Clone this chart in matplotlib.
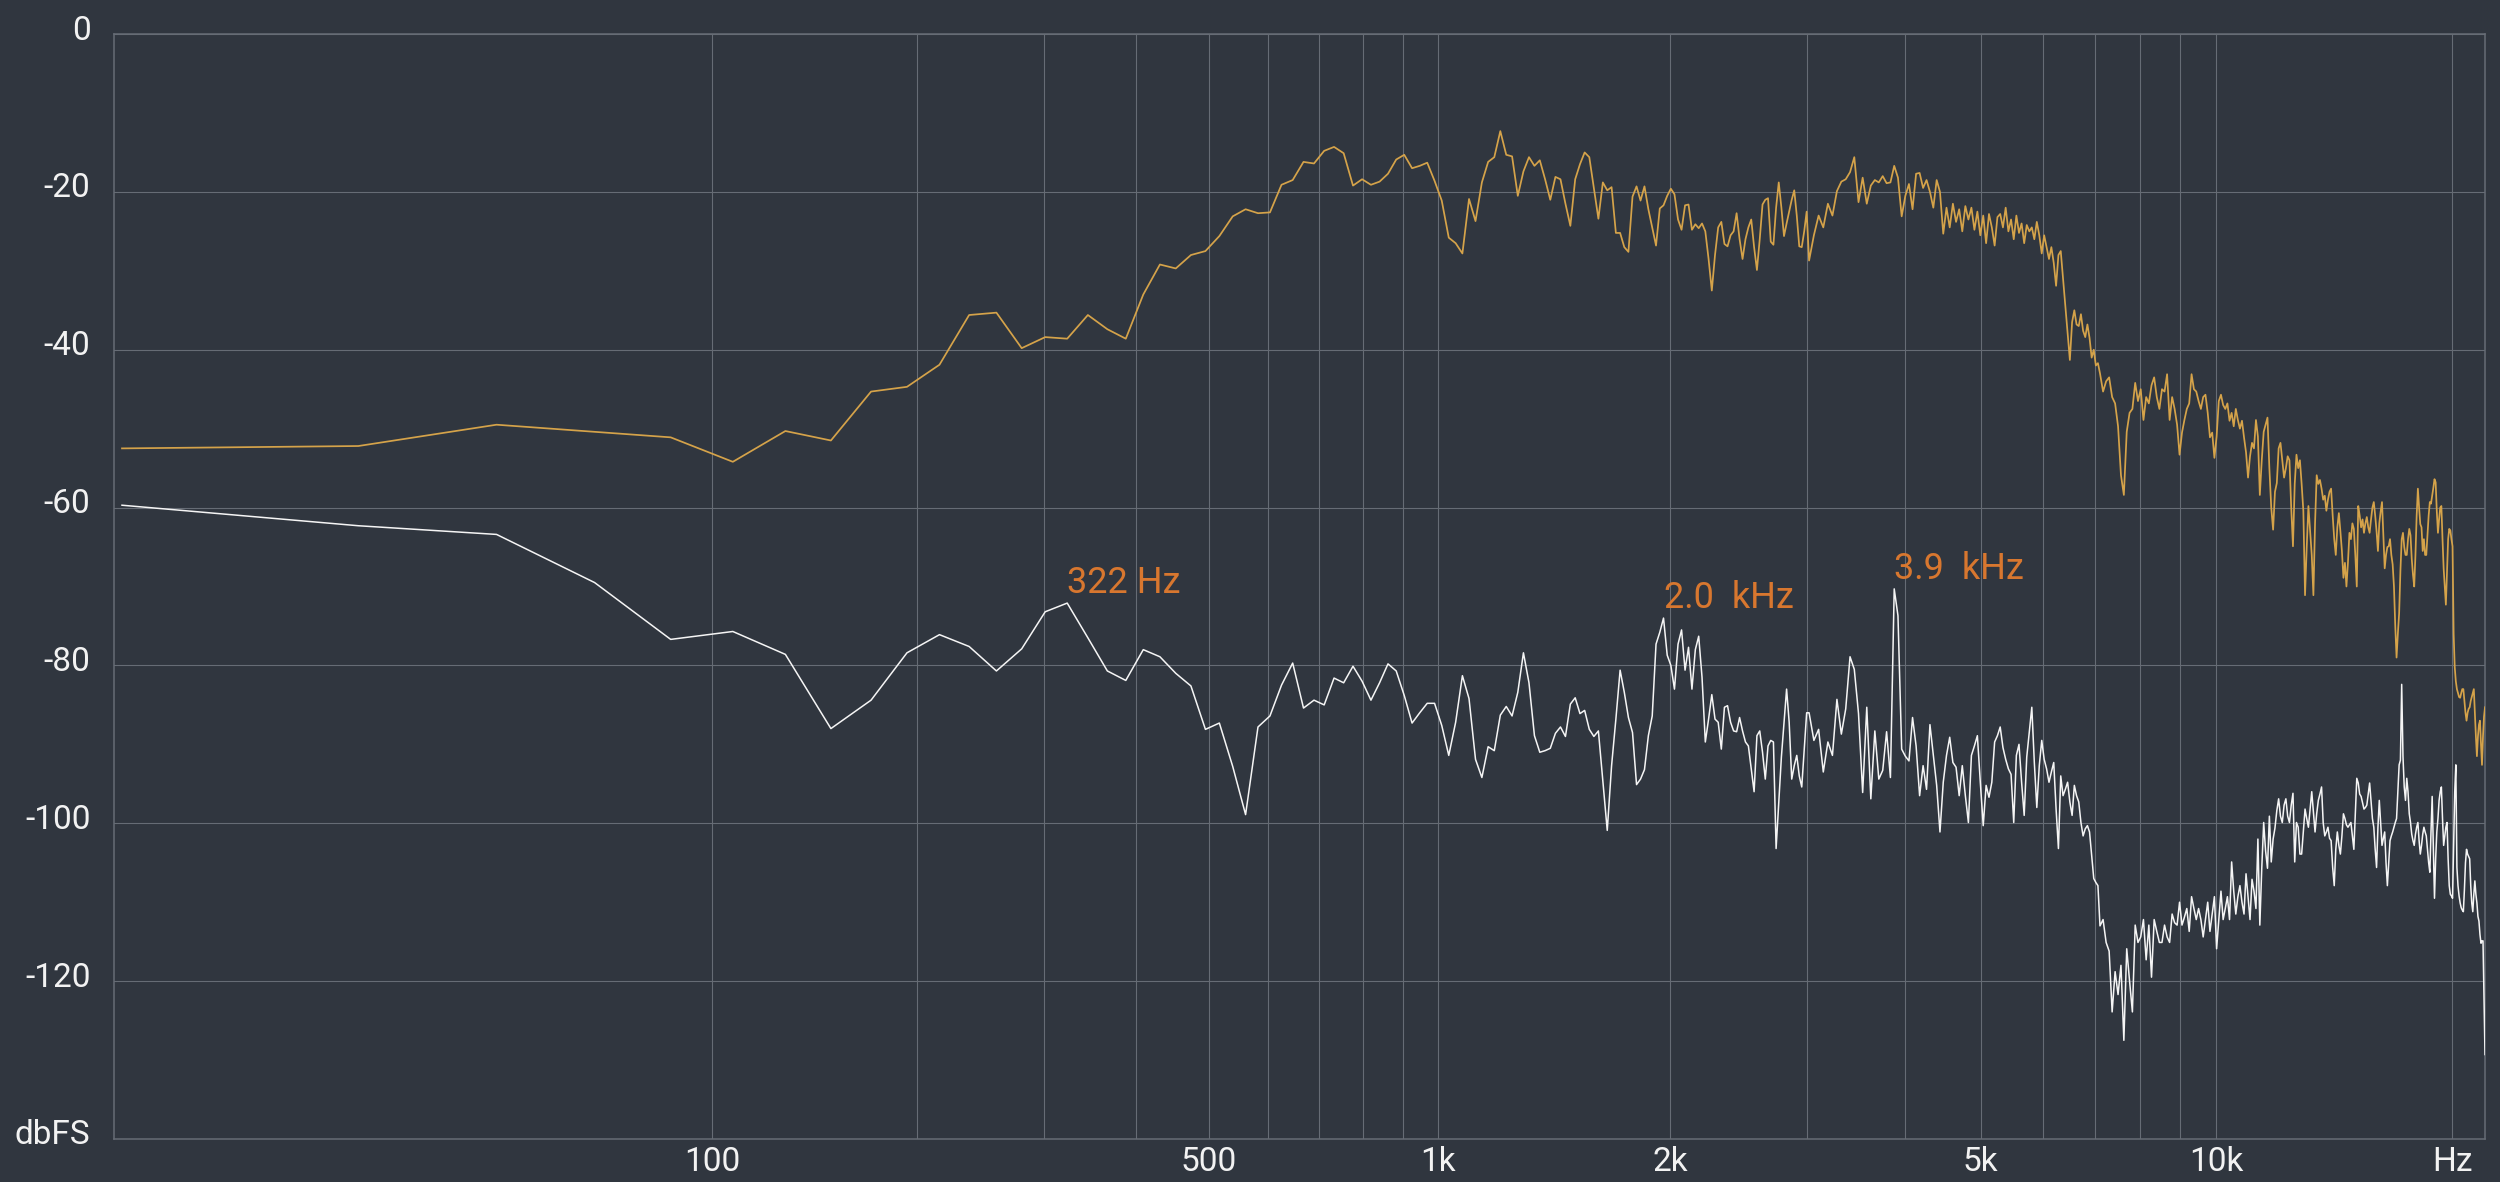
import numpy as np
import matplotlib
matplotlib.use('Agg')
import matplotlib.pyplot as plt
from matplotlib.transforms import ScaledTranslation

FS = 44100
NFFT = 2048
BIN_HZ = FS / NFFT

# spectrum readings (dBFS). bins 0..139 one per bin
gold_lo = [
    -52.5, -52.2, -49.5, -50.4, -51.1, -54.2, -50.3, -51.5, -45.3, -44.7,
    -41.9, -35.6, -35.3, -39.8, -38.4, -38.6, -35.6, -37.4, -38.6, -33.0,
    -29.2, -29.7, -28.0, -27.5, -25.6, -23.1, -22.2, -22.7, -22.6, -19.1,
    -18.5, -16.2, -16.4, -14.8, -14.3, -15.1, -19.2, -18.4, -19.1, -18.7,
    -17.7, -15.9, -15.3, -17.0, -16.7, -16.3, -18.6, -21.1, -25.8, -26.5,
    -27.8, -20.9, -23.7, -18.8, -16.2, -15.6, -12.3, -15.3, -15.5, -20.5,
    -17.4, -15.6, -16.7, -16.0, -18.4, -21.0, -18.1, -18.4, -21.5, -24.3,
    -18.4, -16.5, -15.0, -15.6, -19.5, -23.4, -18.8, -19.8, -19.4, -25.2,
    -25.2, -27.0, -27.6, -20.6, -19.3, -21.1, -19.3, -22.2, -24.5, -26.8,
    -22.1, -21.7, -20.5, -19.6, -20.3, -23.5, -24.8, -21.7, -21.6, -24.8,
    -24.1, -24.6, -24.0, -25.0, -28.5, -32.5, -28.0, -24.5, -23.8, -26.6,
    -26.9, -25.5, -25.0, -22.7, -26.0, -28.5, -26.0, -24.5, -23.5, -27.0,
    -29.9, -26.0, -21.6, -21.0, -20.8, -26.3, -26.7, -22.0, -18.8, -22.0,
    -25.6, -24.0, -22.5, -21.0, -19.8, -23.0, -26.9, -27.0, -25.0, -22.5,
]
white_lo = [
    -59.7, -62.3, -63.4, -69.5, -76.7, -75.7, -78.6, -88.0, -84.4, -78.4,
    -76.1, -77.6, -80.7, -77.9, -73.2, -72.1, -76.5, -80.7, -81.9, -78.0,
    -78.9, -81.0, -82.6, -88.1, -87.3, -92.8, -98.9, -87.8, -86.4, -82.5,
    -79.7, -85.4, -84.4, -85.0, -81.6, -82.2, -80.1, -82.0, -84.4, -82.2,
    -79.8, -80.7, -83.8, -87.3, -86.0, -84.8, -84.8, -87.6, -91.4, -87.2,
    -81.3, -84.2, -91.9, -94.2, -90.3, -90.8, -86.3, -85.2, -86.4, -83.4,
    -78.4, -82.2, -88.9, -91.0, -90.8, -90.5, -88.6, -87.8, -89.0, -84.9,
    -84.1, -86.1, -85.7, -88.1, -89.0, -88.3, -94.6, -100.9, -92.7, -86.8,
    -80.6, -83.4, -86.6, -88.5, -95.1, -94.4, -93.2, -88.9, -86.4, -77.3,
    -75.8, -74.0, -78.7, -80.0, -83.0, -77.3, -75.5, -80.6, -77.7, -83.0,
    -78.0, -76.3, -81.5, -89.7, -86.8, -83.7, -86.8, -87.2, -90.6, -85.3,
    -85.1, -87.2, -88.3, -88.4, -86.6, -88.3, -89.7, -90.2, -93.1, -96.0,
    -88.9, -88.3, -91.0, -94.4, -90.2, -89.5, -89.7, -103.2, -97.3, -91.6,
    -87.2, -83.0, -87.2, -94.4, -92.7, -91.4, -94.0, -95.4, -90.6, -86.0,
]

# bins 140..328, every 2nd bin
gold_mid = [
    -28.7, -25.5, -23.0, -24.5, -21.5, -23.0, -19.9, -18.7, -18.4, -17.5,
    -15.6, -21.3, -18.2, -21.5, -19.2, -18.5, -18.8, -18.0, -18.9, -18.8,
    -16.7, -18.2, -23.1, -20.5, -19.0, -22.2, -17.7, -17.6, -19.5, -18.5,
    -20.0, -22.0, -18.5, -20.0, -25.3,
    -22.0, -24.5, -21.5, -23.8, -22.2, -25.0, -21.8, -23.5, -22.0, -24.8,
    -22.5, -25.5, -23.0, -26.5, -22.8, -24.5, -26.8, -23.2, -22.8, -24.5,
    -22.0, -25.0, -23.5, -26.0, -23.0, -25.2, -24.0, -26.5, -24.2, -25.0,
    -24.5, -26.0, -23.8, -25.5, -27.8, -25.5, -27.0, -28.5, -27.0, -29.0,
    -31.9, -28.0, -27.5, -31.0, -34.4, -38.0, -41.3, -36.5, -35.0, -36.8,
    -37.0, -35.5, -37.6, -38.4, -36.8, -38.5, -41.0, -40.0, -42.0, -41.7,
]
white_mid = [
    -86.0, -89.5, -88.1, -93.5, -89.7, -91.4, -84.3, -88.7, -85.5, -78.9,
    -80.5, -86.1, -96.1, -85.3, -96.9, -88.3, -94.4, -93.3, -88.4, -94.2,
    -70.3, -73.7, -90.6, -91.5, -92.1, -86.6, -90.2, -96.5, -92.7, -95.7,
    -87.5, -91.4, -95.2, -101.1, -94.8, -91.4, -89.1, -92.3, -92.9, -96.5,
    -92.7, -96.5, -99.9, -91.4, -90.2, -88.9, -94.8, -100.3, -95.2, -96.7,
    -94.8, -89.7, -88.9, -87.8, -90.4, -91.9, -93.1, -93.8, -99.9, -91.4,
    -90.0, -94.8, -99.0, -91.6, -88.5, -85.3, -92.3, -98.0, -92.7, -89.5,
    -91.9, -93.1, -94.8, -93.5, -92.3, -98.2, -103.2, -94.0, -96.5, -95.7,
    -94.8, -97.3, -99.0, -95.2, -96.5, -97.3, -99.9, -101.6, -100.7, -100.3,
    -101.1, -104.1, -107.0, -107.5, -107.9,
]

# bins 330..1023, every 3rd bin
gold_hi = [
    -43.0, -45.3, -44.0, -43.5, -46.0, -46.8, -49.7, -55.9, -58.4, -50.4,
    -48.0, -47.5, -44.2, -46.5, -45.0, -48.9, -46.0, -46.8, -44.5, -43.5,
    -46.0, -47.5, -45.0, -45.3, -43.1, -48.9, -46.0, -47.5, -49.5, -53.3,
    -50.5, -48.9, -47.5, -46.8, -43.1, -45.0, -45.3, -46.5, -47.5, -46.0,
    -45.7, -48.0, -51.1, -50.5, -53.7, -51.0, -46.5, -45.7, -47.0, -47.5,
    -46.8, -49.0, -48.0, -49.7, -47.5, -48.9, -50.0, -49.0, -51.1, -53.0,
    -56.2, -53.5, -51.8, -52.5, -48.9, -51.0, -58.4, -54.0, -50.4, -49.5,
    -48.6, -55.0, -60.0, -62.8, -58.0, -56.9, -52.5, -51.8, -54.0, -56.2,
    -55.0, -53.5, -54.0, -60.0, -64.9, -57.0, -53.3, -55.0, -54.0,
    -57.0, -60.4, -71.1, -65.0, -59.8, -63.0, -66.0, -71.1, -62.0, -55.9,
    -57.0, -56.5, -57.6, -59.0, -58.5, -60.4, -59.0, -58.0, -57.6, -61.0,
    -64.0, -66.0, -62.5, -60.7, -63.0, -65.5, -68.9, -67.0, -70.0, -67.0,
    -63.2, -64.0, -62.0, -62.7, -66.0, -70.0, -59.8, -61.0, -62.5, -61.5,
    -63.2, -62.0, -61.2, -62.5, -63.2, -61.5, -60.0, -59.3, -61.0, -63.0,
    -65.5, -62.0, -60.5, -59.3, -63.5, -67.7, -66.0, -65.0, -64.9, -64.0,
    -66.0, -67.2, -70.0, -75.0, -79.0, -76.0, -73.4, -68.0, -64.0, -63.2,
    -65.0, -66.0, -66.0, -64.0, -62.7, -63.5, -66.5, -68.5, -70.0, -66.0,
    -61.0, -57.6, -60.0, -62.1, -62.5, -65.5, -64.0, -66.0, -66.0, -63.5,
    -61.0, -59.3, -59.5, -58.5, -57.5, -56.4, -56.8, -60.5, -63.2, -61.5,
    -60.0, -59.8, -64.0, -67.7, -70.0, -72.3, -68.0, -64.0, -62.7, -62.9,
    -64.0, -64.9, -76.0, -80.2, -82.0, -83.0, -83.5, -84.0, -84.1, -83.5,
    -83.0, -83.0, -84.5, -86.0, -87.0, -86.0, -85.5, -85.3, -84.5, -84.0,
    -83.5, -83.0, -86.0, -89.0, -91.5, -89.0, -87.5, -87.0, -90.0, -92.6,
    -89.0, -86.5, -85.3,
]
white_hi = [
    -113.0, -112.2, -115.1, -116.2, -123.9, -118.8, -121.7, -118.0, -127.5, -115.9,
    -120.0, -123.9, -112.9, -115.1, -114.4, -112.2, -117.3, -112.9, -119.5, -112.2,
    -113.7, -115.1, -115.1, -112.9, -114.4, -115.1, -111.5, -112.6, -112.9, -110.0,
    -112.9, -111.9, -110.8, -113.7, -109.3, -110.8, -112.2, -110.8, -112.2, -114.4,
    -112.2, -110.0, -113.7, -111.5, -109.3, -115.9, -112.2, -108.6, -112.2, -110.8,
    -109.3, -112.2, -104.9, -108.6, -111.5, -109.3, -107.9, -110.0, -111.5, -106.4,
    -109.3, -112.2, -107.1, -108.6, -110.8, -102.0, -112.9, -105.7, -99.9, -103.5,
    -105.7, -99.1, -104.9, -102.0, -100.6, -98.4, -96.9, -99.1, -99.9, -97.7,
    -96.9, -99.1, -99.9, -97.7, -96.2, -104.9, -99.9,
    -100.5, -103.9, -103.9, -101.1, -98.2, -99.4, -100.5, -98.2, -96.0, -98.5,
    -101.1, -98.8, -97.1, -96.3, -95.4, -99.9, -101.6, -101.1, -100.5, -101.9,
    -102.2, -105.6, -107.9, -103.3, -101.1, -102.8, -103.9, -101.6, -98.8, -99.4,
    -100.2, -100.5, -100.2, -99.9, -101.6, -103.3, -98.8, -94.3, -94.9, -96.3,
    -96.6, -97.4, -98.2, -98.0, -97.7, -96.3, -94.9, -97.1, -99.4, -100.5,
    -103.3, -105.6, -100.5, -97.1, -99.9, -102.8, -101.9, -101.1, -105.0, -107.9,
    -105.0, -102.2, -101.6, -101.1, -100.5, -99.9, -99.4, -96.0, -92.6, -92.0,
    -82.4, -91.5, -95.4, -97.1, -94.3, -96.0, -98.8, -99.9, -101.4, -102.2,
    -102.8, -101.4, -100.5, -99.9, -102.2, -103.9, -102.8, -101.4, -100.5, -101.1,
    -101.6, -103.3, -105.0, -106.2, -101.1, -96.6, -102.8, -109.5, -104.5, -101.1,
    -99.4, -97.1, -96.0, -95.4, -99.4, -102.8, -101.6, -100.5, -99.9, -104.5,
    -107.9, -109.0, -109.2, -109.5, -102.8, -96.0, -92.6, -105.6, -107.9, -109.2,
    -110.1, -110.7, -111.0, -111.2, -108.4, -105.0, -103.3, -103.9, -104.2, -104.5,
    -107.9, -110.1, -111.2, -109.0, -107.3, -109.0, -110.1, -111.8, -112.4, -114.1,
    -115.2, -114.9, -114.9, -122.5, -129.3,
]

peak_bins = [15, 91, 180]
peak_labels = ['322 Hz', '2.0  kHz', '3.9  kHz']

grid_hz = [100, 200, 300, 400, 500, 600, 700, 800, 900,
           1000, 2000, 3000, 4000, 5000, 6000, 7000, 8000, 9000, 10000, 20000]
xtick_hz = [100, 500, 1000, 2000, 5000, 10000, 20000]
xtick_labels = ['100', '500', '1k', '2k', '5k', '10k', 'Hz']
ytick_db = [0, -20, -40, -60, -80, -100, -120, -140]
ytick_labels = ['0', '-20', '-40', '-60', '-80', '-100', '-120', 'dbFS']

bins = np.concatenate([np.arange(0, 140), np.arange(140, 330, 2), np.arange(330, 1024, 3)])
freqs = bins * BIN_HZ
gold = np.array(gold_lo + gold_mid + gold_hi)
white = np.array(white_lo + white_mid + white_hi)

BG = '#30363f'
GRID = '#666c75'
TXT = '#f2f2f2'

plt.rcParams['font.family'] = ['Roboto', 'DejaVu Sans']

fig = plt.figure(figsize=(25, 11.82), dpi=100, facecolor=BG)
ax = fig.add_axes([0.0456, 0.0364, 0.9484, 0.9348], facecolor=BG)


def fwd(f):
    return np.log10(np.clip(np.asarray(f, dtype=float) + BIN_HZ, 1e-6, None))


def inv(v):
    return 10 ** np.asarray(v, dtype=float) - BIN_HZ


ax.set_xscale('function', functions=(fwd, inv))
ax.set_xlim(-0.5, 1023 * BIN_HZ)
ax.set_ylim(-140, 0)

ax.set_xticks(grid_hz, minor=True)
ax.set_xticks(xtick_hz)
ax.set_xticklabels(xtick_labels)
ax.set_yticks(ytick_db)
ax.set_yticklabels(ytick_labels)
ax.tick_params(which='both', length=0, colors=TXT, labelsize=24)
ax.tick_params(axis='x', pad=5)
ax.tick_params(axis='y', pad=17)
ax.xaxis.set_minor_formatter(plt.NullFormatter())

ax.grid(True, which='both', axis='x', color=GRID, lw=0.8)
ax.grid(True, which='major', axis='y', color=GRID, lw=0.8)
ax.set_axisbelow(True)
for s in ax.spines.values():
    s.set_color(GRID)
    s.set_linewidth(1.1)

# y labels sit a bit above their grid line
shift = ScaledTranslation(0, 7 / 100, fig.dpi_scale_trans)
for lab in ax.get_yticklabels():
    lab.set_transform(lab.get_transform() + shift)

ax.plot(freqs, gold, color='#d5a34a', lw=1.25, zorder=3)
ax.plot(freqs, white, color='#f5f5f5', lw=1.1, zorder=4)

for b, txt in zip(peak_bins, peak_labels):
    i = int(np.where(bins == b)[0][0])
    ax.text(freqs[i], white[i] + 0.3, txt, color='#d8772f', fontsize=26,
            ha='left', va='bottom', zorder=5)

fig.savefig('out.png', dpi=100, facecolor=BG)
